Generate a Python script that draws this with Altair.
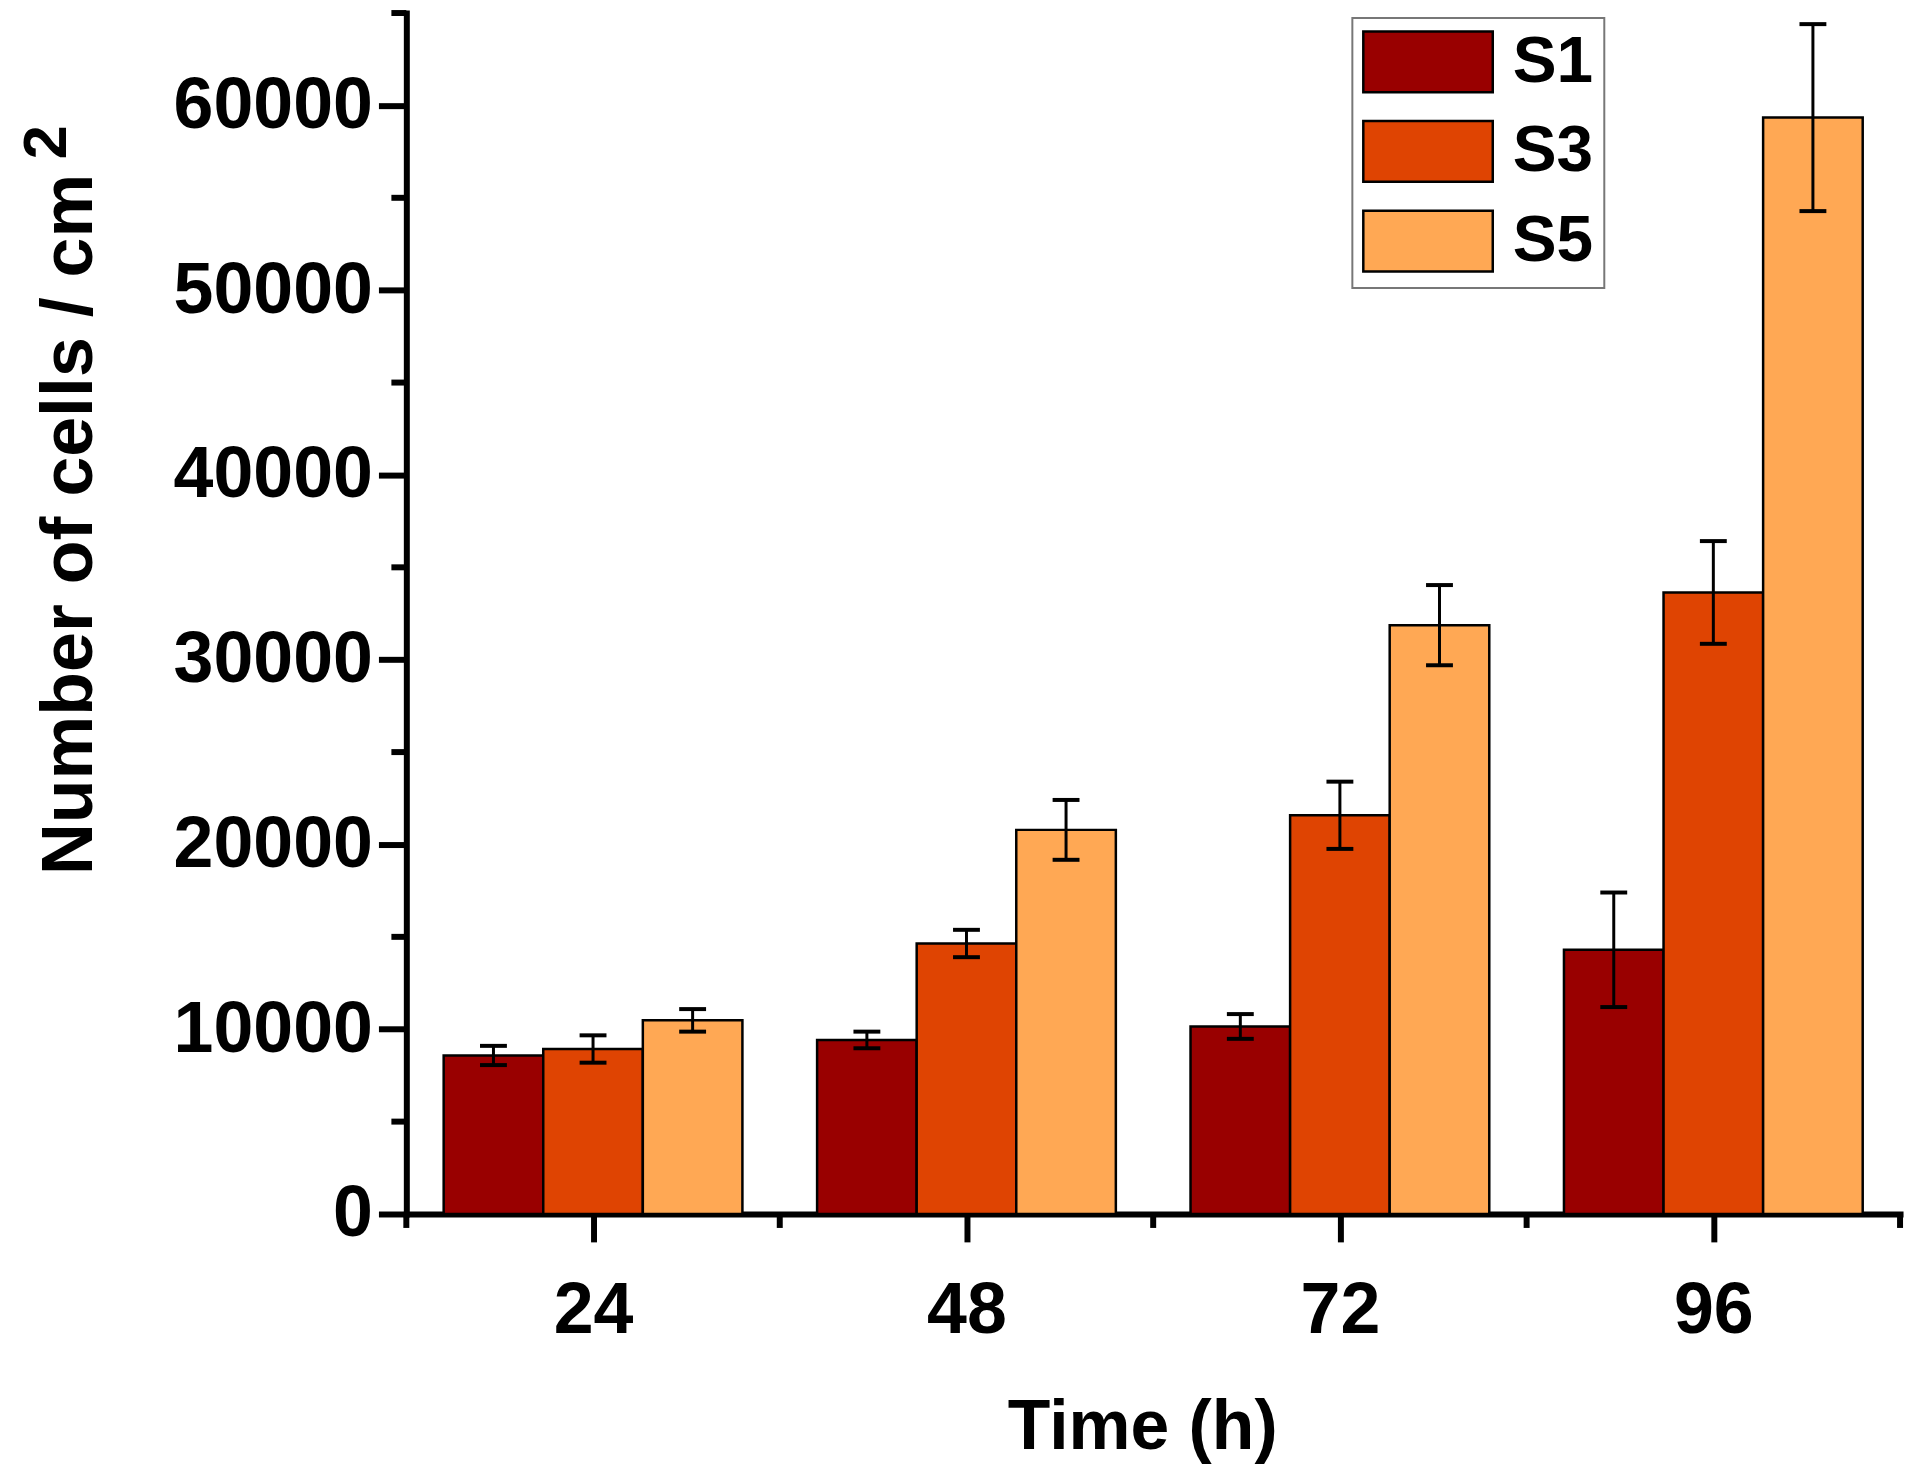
import altair as alt
import pandas as pd

# ---------------- data ----------------
times = [24, 48, 72, 96]
samples = ["S1", "S3", "S5"]
s1_mean = [8580, 9420, 10150, 14300]
s1_err = [520, 450, 670, 3100]
s3_mean = [8930, 14640, 21580, 33640]
s3_err = [740, 740, 1820, 2780]
s5_mean = [10480, 20790, 31870, 59340]
s5_err = [610, 1620, 2170, 5060]
colors = ["#990000", "#DF4402", "#FFA854"]

x_ticks = [24, 48, 72, 96]
x_minor_ticks = [12, 36, 60, 84, 108]
y_ticks = [0, 10000, 20000, 30000, 40000, 50000, 60000]
y_minor_ticks = [5000, 15000, 25000, 35000, 45000, 55000, 65000]

y_title_main = "Number of cells / cm"
y_title_sup = ["2"]

rows = []
for si, (name, means, errs) in enumerate(
    zip(samples, [s1_mean, s3_mean, s5_mean], [s1_err, s3_err, s5_err])
):
    for t, m, e in zip(times, means, errs):
        rows.append({"time": t, "sample": name, "idx": si, "mean": m, "err": e})
df = pd.DataFrame(rows)

# ---------------- layout ----------------
W, H = 1500, 1206
BAR_W = 6.4  # bar width in hours
FONT = "Liberation Sans"

xscale = alt.Scale(domain=[12, 108], nice=False, zero=False)
yscale = alt.Scale(domain=[0, 65000], nice=False)

x_axis = alt.Axis(
    values=x_ticks,
    format="d",
    title="Time (h)",
    titleX=739,
    titleY=235,
    titleBaseline="alphabetic",
    titleAlign="center",
    titleFontSize=70,
    labelPadding=34,
    tickSize=28,
    labelOverlap=False,
    labelFlush=False,
    labelLimit=0,
)
y_axis = alt.Axis(
    values=y_ticks,
    format="d",
    title=y_title_main,
    titleX=-316,
    titleY=513,
    titleBaseline="alphabetic",
    titleAlign="center",
    titleAngle=270,
    titleFontSize=72,
    labelPadding=6,
    tickSize=28,
    labelOverlap=False,
    labelLimit=0,
)

base = alt.Chart(df).transform_calculate(
    center=f"datum.time + (datum.idx - 1) * {BAR_W}",
    xleft=f"datum.time + (datum.idx - 1.5) * {BAR_W}",
    xright=f"datum.time + (datum.idx - 0.5) * {BAR_W}",
    lo="datum.mean - datum.err",
    hi="datum.mean + datum.err",
    base0="0",
)

bars = base.mark_bar(stroke="black", strokeWidth=2.5, opacity=1).encode(
    x=alt.X("xleft:Q", scale=xscale, axis=x_axis),
    x2="xright:Q",
    y=alt.Y("mean:Q", scale=yscale, axis=y_axis),
    y2="base0:Q",
    color=alt.Color(
        "sample:N",
        scale=alt.Scale(domain=samples, range=colors),
        legend=alt.Legend(
            title=None,
            orient="none",
            legendX=950,
            legendY=5,
            symbolType="M-2.1667,-1.0167H2.1667V1.0167H-2.1667Z",
            symbolSize=3600,
            symbolOffset=32,
            symbolStrokeColor="black",
            symbolStrokeWidth=2.5,
            symbolOpacity=1,
            labelFont=FONT,
            labelFontSize=66,
            labelFontWeight="bold",
            labelColor="black",
            labelOffset=52,
            strokeColor="#777777",
            fillColor="white",
            padding=11,
            rowPadding=18,
        ),
    ),
)

err_rules = base.mark_rule(color="black", strokeWidth=3).encode(
    x=alt.X("center:Q", scale=xscale, axis=x_axis),
    y=alt.Y("lo:Q", scale=yscale, axis=y_axis),
    y2="hi:Q",
)

cap_hi = base.mark_tick(
    orient="horizontal", color="black", size=27, thickness=4, opacity=1
).encode(
    x=alt.X("center:Q", scale=xscale, axis=x_axis),
    y=alt.Y("hi:Q", scale=yscale, axis=y_axis),
)

cap_lo = base.mark_tick(
    orient="horizontal", color="black", size=27, thickness=4, opacity=1
).encode(
    x=alt.X("center:Q", scale=xscale, axis=x_axis),
    y=alt.Y("lo:Q", scale=yscale, axis=y_axis),
)

y_minor = alt.Chart(pd.DataFrame({"v": y_minor_ticks})).mark_rule(
    color="black", strokeWidth=6
).encode(
    y=alt.Y("v:Q", scale=yscale, axis=y_axis),
    x=alt.value(-15),
    x2=alt.value(0),
)

x_minor = alt.Chart(pd.DataFrame({"h": x_minor_ticks})).mark_rule(
    color="black", strokeWidth=6
).encode(
    x=alt.X("h:Q", scale=xscale, axis=x_axis),
    y=alt.value(H),
    y2=alt.value(H + 14),
)

# superscript "2" of the y-axis title (cm²)
sup = alt.Chart(pd.DataFrame({"t": y_title_sup})).mark_text(
    angle=270,
    align="left",
    baseline="alphabetic",
    font=FONT,
    fontSize=62,
    fontWeight="bold",
    color="black",
).encode(text="t:N", x=alt.value(-342), y=alt.value(147))

chart = (
    alt.layer(bars, err_rules, cap_hi, cap_lo, y_minor, x_minor, sup)
    .properties(
        width=W,
        height=H,
        autosize=alt.AutoSizeParams(type="none"),
        padding={"left": 400, "top": 2, "right": 12, "bottom": 250},
    )
    .configure_view(stroke=None)
    .configure_axis(
        grid=False,
        domainColor="black",
        domainWidth=6,
        domainCap="square",
        tickColor="black",
        tickWidth=6,
        labelFont=FONT,
        labelFontSize=72,
        labelFontWeight="bold",
        labelColor="black",
        titleFont=FONT,
        titleFontWeight="bold",
        titleColor="black",
    )
    .configure_legend(strokeWidth=2)
)

chart.save("out.html", embed_options={"renderer": "svg", "actions": False})
